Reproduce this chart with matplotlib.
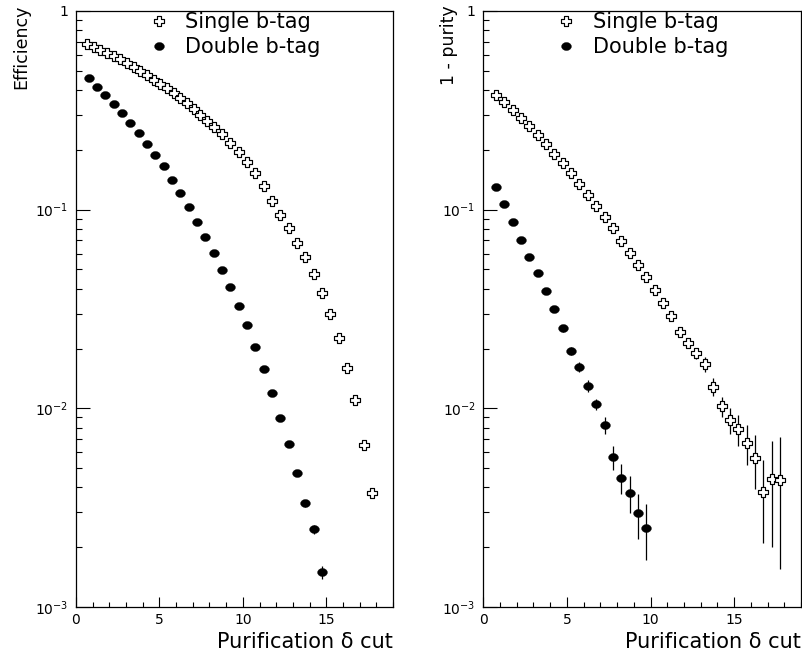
import numpy as np
import matplotlib
matplotlib.use("Agg")
import matplotlib.pyplot as plt
from matplotlib.path import Path
from matplotlib.ticker import FixedLocator, FuncFormatter, MultipleLocator, NullFormatter

# ---------------- data ----------------
# Left panel: Efficiency
eff_single_x = [0.65, 1.05, 1.45, 1.85, 2.25, 2.65, 3.05, 3.45, 3.85, 4.25,
                4.65, 5.05, 5.45, 5.85, 6.25, 6.65, 7.05, 7.45, 7.85, 8.25,
                8.75, 9.25, 9.75, 10.25, 10.75, 11.25, 11.75, 12.25, 12.75, 13.25,
                13.75, 14.25, 14.75, 15.25, 15.75, 16.25, 16.75, 17.25, 17.75]
eff_single_y = [0.679, 0.661, 0.636, 0.612, 0.594, 0.571, 0.545, 0.524, 0.499, 0.476,
                0.450, 0.428, 0.408, 0.385, 0.364, 0.343, 0.321, 0.300, 0.281, 0.262,
                0.2404, 0.2178, 0.1951, 0.1738, 0.1530, 0.1316, 0.1105, 0.0940, 0.0805, 0.0682,
                0.0576, 0.0473, 0.0379, 0.0299, 0.0225, 0.0159, 0.0110, 0.00654, 0.00376]
eff_single_err = [0.002, 0.002, 0.002, 0.002, 0.002, 0.002, 0.002, 0.002, 0.002, 0.002,
                  0.002, 0.002, 0.002, 0.002, 0.002, 0.002, 0.002, 0.0018, 0.0018, 0.0017,
                  0.0016, 0.0015, 0.0014, 0.0013, 0.0012, 0.0011, 0.0010, 0.0009, 0.0008, 0.0007,
                  0.0006, 0.0005, 0.0004, 0.0003, 0.00025, 0.0002, 0.00016, 0.00013, 0.00012]

eff_double_x = [0.75, 1.25, 1.75, 2.25, 2.75, 3.25, 3.75, 4.25, 4.75, 5.25,
                5.75, 6.25, 6.75, 7.25, 7.75, 8.25, 8.75, 9.25, 9.75, 10.25,
                10.75, 11.25, 11.75, 12.25, 12.75, 13.25, 13.75, 14.25, 14.75]
eff_double_y = [0.458, 0.416, 0.378, 0.340, 0.306, 0.274, 0.242, 0.213, 0.188, 0.165,
                0.141, 0.1217, 0.1027, 0.0867, 0.0726, 0.0603, 0.0497, 0.0410, 0.0327, 0.0262,
                0.0204, 0.0158, 0.0119, 0.00897, 0.00661, 0.00471, 0.00333, 0.00246, 0.00150]
eff_double_err = [0.0030, 0.0028, 0.0027, 0.0025, 0.0024, 0.0022, 0.0021, 0.0019, 0.0018, 0.0017,
                  0.0015, 0.0014, 0.0013, 0.0012, 0.0011, 0.0010, 0.0009, 0.0008, 0.0007, 0.0006,
                  0.0005, 0.0004, 0.0003, 0.00025, 0.0002, 0.00015, 0.00013, 0.00012, 0.00011]

# Right panel: 1 - purity
pur_single_x = [0.75, 1.25, 1.75, 2.25, 2.75, 3.25, 3.75, 4.25, 4.75, 5.25,
                5.75, 6.25, 6.75, 7.25, 7.75, 8.25, 8.75, 9.25, 9.75, 10.25,
                10.75, 11.25, 11.75, 12.25, 12.75, 13.25, 13.75, 14.25, 14.75, 15.25,
                15.75, 16.25, 16.75, 17.25, 17.75]
pur_single_y = [0.3778, 0.348, 0.3175, 0.2892, 0.2622, 0.2376, 0.2130, 0.1906, 0.1708, 0.1524,
                0.1339, 0.1179, 0.1043, 0.0915, 0.0806, 0.0696, 0.0607, 0.0527, 0.0457, 0.0394,
                0.0338, 0.0292, 0.0243, 0.0213, 0.0189, 0.0167, 0.01285, 0.01027, 0.00873, 0.00784,
                0.00671, 0.00564, 0.00381, 0.00441, 0.00436]
pur_single_err = [0.0030, 0.0029, 0.0028, 0.0027, 0.0026, 0.0025, 0.0024, 0.0023, 0.0022, 0.0021,
                  0.0020, 0.0019, 0.0018, 0.0017, 0.0016, 0.0015, 0.0014, 0.0013, 0.0012, 0.0011,
                  0.0010, 0.0010, 0.0010, 0.0011, 0.0012, 0.0015, 0.0013, 0.0012, 0.0013, 0.0014,
                  0.0015, 0.0017, 0.0017, 0.0024, 0.0028]

pur_double_x = [0.75, 1.25, 1.75, 2.25, 2.75, 3.25, 3.75, 4.25, 4.75, 5.25,
                5.75, 6.25, 6.75, 7.25, 7.75, 8.25, 8.75, 9.25, 9.75]
pur_double_y = [0.1296, 0.1064, 0.0867, 0.0704, 0.0580, 0.0478, 0.0390, 0.0315, 0.0253, 0.0195,
                0.0162, 0.0130, 0.01048, 0.00824, 0.00567, 0.00448, 0.00376, 0.00296, 0.00251]
pur_double_err = [0.0020, 0.0018, 0.0016, 0.0015, 0.0013, 0.0012, 0.0011, 0.0010, 0.0010, 0.0009,
                  0.0009, 0.0009, 0.0007, 0.00085, 0.0008, 0.00077, 0.0008, 0.00076, 0.00078]

series_labels = ["Single b-tag", "Double b-tag"]
xlabel_text = "Purification \u03b4 cut"
ylabels = ["Efficiency", "1 - purity"]
major_yticks = [1e-3, 1e-2, 1e-1, 1.0]

# ---------------- styling ----------------
plt.rcParams["font.family"] = ["DejaVu Sans"]
plt.rcParams["mathtext.fontset"] = "dejavusans"

# slightly wide markers (the reference is horizontally stretched)
sq = 0.88
cross_pts = np.array([(-1, -3), (-1, -1), (-3, -1), (-3, 1), (-1, 1), (-1, 3),
                      (1, 3), (1, 1), (3, 1), (3, -1), (1, -1), (1, -3), (-1, -3)], float) / 3.0
cross_pts[:, 1] *= sq
cross_marker = Path(cross_pts, closed=True)
t = np.linspace(0, 2 * np.pi, 60)
ell = np.column_stack([np.cos(t), 0.82 * np.sin(t)])
dot_marker = Path(ell, closed=True)

fig = plt.figure(figsize=(8.02, 6.56), dpi=100)
fig.patch.set_facecolor("white")

ax_pos = [[76 / 802, 49 / 656, 317 / 802, 596 / 656],
          [483.3 / 802, 49 / 656, 317.7 / 802, 596 / 656]]

panels = [
    (eff_single_x, eff_single_y, eff_single_err, eff_double_x, eff_double_y, eff_double_err),
    (pur_single_x, pur_single_y, pur_single_err, pur_double_x, pur_double_y, pur_double_err),
]
ylab_x = [-0.145, -0.080]


def fmt(v, pos):
    if v == 1.0:
        return "1"
    e = int(round(np.log10(v)))
    return r"$10^{%d}$" % e


for i, (sx, sy, se, dx, dy, de) in enumerate(panels):
    ax = fig.add_axes(ax_pos[i])
    ax.set_yscale("log")
    ax.set_xlim(0, 19)
    ax.set_ylim(1e-3, 1.0)

    ax.errorbar(sx, sy, yerr=se, fmt="none", ecolor="black", elinewidth=0.9, capsize=0, zorder=2)
    ax.errorbar(dx, dy, yerr=de, fmt="none", ecolor="black", elinewidth=0.9, capsize=0, zorder=2)
    h1, = ax.plot(sx, sy, linestyle="none", marker=cross_marker, markersize=7.6,
                  markerfacecolor="white", markeredgecolor="black", markeredgewidth=0.85, zorder=3)
    h2, = ax.plot(dx, dy, linestyle="none", marker=dot_marker, markersize=7.0,
                  markerfacecolor="black", markeredgecolor="black", markeredgewidth=0.3, zorder=3)

    ax.legend([h1, h2], series_labels, loc="upper left", bbox_to_anchor=(0.229, 0.998),
              frameon=False, borderpad=0, borderaxespad=0, handlelength=1.0,
              handletextpad=0.75, labelspacing=0.25, fontsize=15)

    ax.yaxis.set_major_locator(FixedLocator(major_yticks))
    ax.yaxis.set_major_formatter(FuncFormatter(fmt))
    minors = [m * 10.0 ** k for k in (-3, -2, -1) for m in range(2, 10)]
    ax.yaxis.set_minor_locator(FixedLocator(minors))
    ax.yaxis.set_minor_formatter(NullFormatter())
    ax.xaxis.set_major_locator(MultipleLocator(5))
    ax.xaxis.set_minor_locator(MultipleLocator(1))

    ax.tick_params(axis="both", which="both", direction="in", top=False, right=False,
                   width=0.8, colors="black")
    ax.tick_params(axis="y", which="major", length=10, pad=5.5, labelsize=10)
    ax.tick_params(axis="y", which="minor", length=4.3)
    ax.tick_params(axis="x", which="major", length=7.2, pad=4.5, labelsize=10)
    ax.tick_params(axis="x", which="minor", length=3.6)
    for sp in ax.spines.values():
        sp.set_linewidth(0.9)
        sp.set_color("black")

    ax.set_xlabel(xlabel_text, fontsize=15, loc="right")
    ax.xaxis.set_label_coords(1.0, -0.042)
    ax.set_ylabel(ylabels[i], fontsize=12.5, loc="top")
    ax.yaxis.set_label_coords(ylab_x[i], 1.01)

fig.savefig("out.png", dpi=100, facecolor="white")
